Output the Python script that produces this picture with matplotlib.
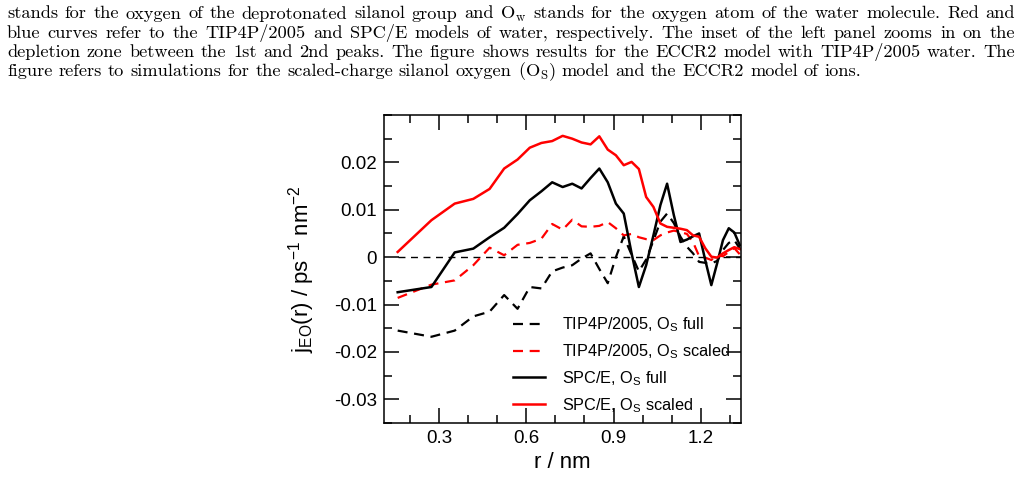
import matplotlib
matplotlib.use('Agg')
import matplotlib.pyplot as plt
from matplotlib.ticker import MultipleLocator, FixedLocator
from matplotlib.lines import Line2D

plt.rcParams['font.family'] = ['Liberation Sans', 'DejaVu Sans']
plt.rcParams['mathtext.default'] = 'regular'
plt.rcParams['axes.unicode_minus'] = False

# r / nm (bin centres)
r = [0.158, 0.274, 0.354, 0.418, 0.474, 0.524, 0.570, 0.612, 0.652, 0.689,
     0.725, 0.758, 0.790, 0.821, 0.851, 0.880, 0.908, 0.935, 0.962, 0.987,
     1.012, 1.037, 1.061, 1.084, 1.107, 1.130, 1.152, 1.173, 1.194, 1.215,
     1.236, 1.256, 1.276, 1.296, 1.315, 1.334]

tip4p_full = [-0.0155, -0.0168, -0.0155, -0.0125, -0.0115, -0.0080, -0.0109, -0.0063, -0.0066, -0.0030,
              -0.0022, -0.0017, -0.0003, 0.0008, -0.0025, -0.0055, 0.0000, 0.0044, 0.0005, -0.0030,
              -0.0005, 0.0035, 0.0075, 0.0092, 0.0072, 0.0043, 0.0022, 0.0008, -0.0010, -0.0012,
              -0.0013, -0.0008, 0.0015, 0.0030, 0.0036, 0.0018]
tip4p_scaled = [-0.0086, -0.0058, -0.0049, -0.0017, 0.0020, 0.0004, 0.0026, 0.0030, 0.0039, 0.0070,
                0.0058, 0.0079, 0.0065, 0.0064, 0.0066, 0.0074, 0.0061, 0.0046, 0.0049, 0.0042,
                0.0038, 0.0036, 0.0046, 0.0052, 0.0056, 0.0053, 0.0049, 0.0032, 0.0002, -0.0001,
                -0.0006, 0.0004, 0.0002, 0.0011, 0.0019, 0.0006]
spce_full = [-0.0074, -0.0063, 0.0010, 0.0018, 0.0042, 0.0062, 0.0091, 0.0120, 0.0139, 0.0158,
             0.0148, 0.0155, 0.0145, 0.0167, 0.0187, 0.0158, 0.0113, 0.0092, 0.0008, -0.0063,
             -0.0017, 0.0046, 0.0110, 0.0155, 0.0089, 0.0032, 0.0037, 0.0044, 0.0050, -0.0006,
             -0.0059, -0.0013, 0.0036, 0.0061, 0.0052, 0.0025]
spce_scaled = [0.0011, 0.0078, 0.0113, 0.0123, 0.0144, 0.0187, 0.0206, 0.0231, 0.0241, 0.0245,
               0.0256, 0.0250, 0.0242, 0.0238, 0.0255, 0.0227, 0.0215, 0.0194, 0.0201, 0.0186,
               0.0127, 0.0106, 0.0071, 0.0064, 0.0062, 0.0060, 0.0057, 0.0046, 0.0043, 0.0019,
               0.0001, -0.0001, 0.0008, 0.0015, 0.0021, 0.0017]

xticks = [0.3, 0.6, 0.9, 1.2]
xticklabels = ['0.3', '0.6', '0.9', '1.2']
yticks = [-0.03, -0.02, -0.01, 0.0, 0.01, 0.02]
yticklabels = ['-0.03', '-0.02', '-0.01', '0', '0.01', '0.02']

legend_labels = ['TIP4P/2005, O$_S$ full', 'TIP4P/2005, O$_S$ scaled',
                 'SPC/E, O$_S$ full', 'SPC/E, O$_S$ scaled']

caption = [
    ('stands for the oxygen of the deprotonated silanol group and O$_w$ stands for the oxygen atom of the water molecule. Red and', True),
    ('blue curves refer to the TIP4P/2005 and SPC/E models of water, respectively. The inset of the left panel zooms in on the', True),
    ('depletion zone between the 1st and 2nd peaks. The figure shows results for the ECCR2 model with TIP4P/2005 water. The', True),
    ('figure refers to simulations for the scaled-charge silanol oxygen (O$_S$) model and the ECCR2 model of ions.', False),
]

W, H = 1029, 478
fig = plt.figure(figsize=(W / 100, H / 100), dpi=100)
renderer = fig.canvas.get_renderer()

# caption, justified word by word like the LaTeX page
cap_size = 13.2
baselines = [18.5, 37.7, 56.9, 76.1]
x0, x1 = 7, 1015
for (line, justify), yb in zip(caption, baselines):
    words = line.split(' ')
    ts = [fig.text(0, 0, w, fontsize=cap_size, family='cmr10', va='baseline', ha='left')
          for w in words]
    widths = [t.get_window_extent(renderer).width for t in ts]
    if justify:
        gap = (x1 - x0 - sum(widths)) / (len(words) - 1)
    else:
        gap = cap_size * 100 / 72 * 0.333
    x = x0
    for t, w in zip(ts, widths):
        t.set_position((x / W, 1 - yb / H))
        x += w + gap

# the plot
ax = fig.add_axes([384 / W, 1 - 423 / H, 357 / W, 308 / H])
ax.plot([r[0], r[-1]], [0, 0], color='black', lw=1.0, ls=(0, (5, 4)))
ax.plot(r, tip4p_full, color='black', lw=1.6, ls=(0, (4.5, 3)))
ax.plot(r, tip4p_scaled, color='red', lw=1.6, ls=(0, (4.5, 3)))
ax.plot(r, spce_full, color='black', lw=1.8)
ax.plot(r, spce_scaled, color='red', lw=1.8)

ax.set_xlim(0.111, 1.338)
ax.set_ylim(-0.035, 0.03)
ax.xaxis.set_major_locator(FixedLocator(xticks))
ax.set_xticklabels(xticklabels)
ax.yaxis.set_major_locator(FixedLocator(yticks))
ax.set_yticklabels(yticklabels)
ax.xaxis.set_minor_locator(MultipleLocator(0.1))
ax.yaxis.set_minor_locator(MultipleLocator(0.005))
ax.tick_params(which='both', direction='in', top=True, right=True, width=1.1, labelsize=13.5)
ax.tick_params(which='major', length=11)
ax.tick_params(which='minor', length=5.8)
ax.tick_params(axis='x', pad=5)
ax.tick_params(axis='y', pad=5)
for s in ax.spines.values():
    s.set_linewidth(1.1)

ax.set_xlabel('r / nm', fontsize=16)
ax.xaxis.set_label_coords(0.5, -(462 - 423) / 308)
ax.xaxis.label.set_va('center')
ax.set_ylabel('j$_{EO}$(r) / ps$^{-1}$ nm$^{-2}$', fontsize=16)
ax.yaxis.set_label_coords((302 - 384) / 357, 0.5)
ax.yaxis.label.set_va('center')

handles = [Line2D([], [], color='black', lw=1.6, ls=(0, (4.5, 3))),
           Line2D([], [], color='red', lw=1.6, ls=(0, (4.5, 3))),
           Line2D([], [], color='black', lw=1.8),
           Line2D([], [], color='red', lw=1.8)]
ax.legend(handles, legend_labels, loc='upper left', bbox_to_anchor=(0.361, 0.349),
          frameon=False, borderpad=0, borderaxespad=0, handlelength=1.97,
          handletextpad=1.05, labelspacing=0.5, fontsize=11.7)

fig.savefig('out.png', dpi=100)
